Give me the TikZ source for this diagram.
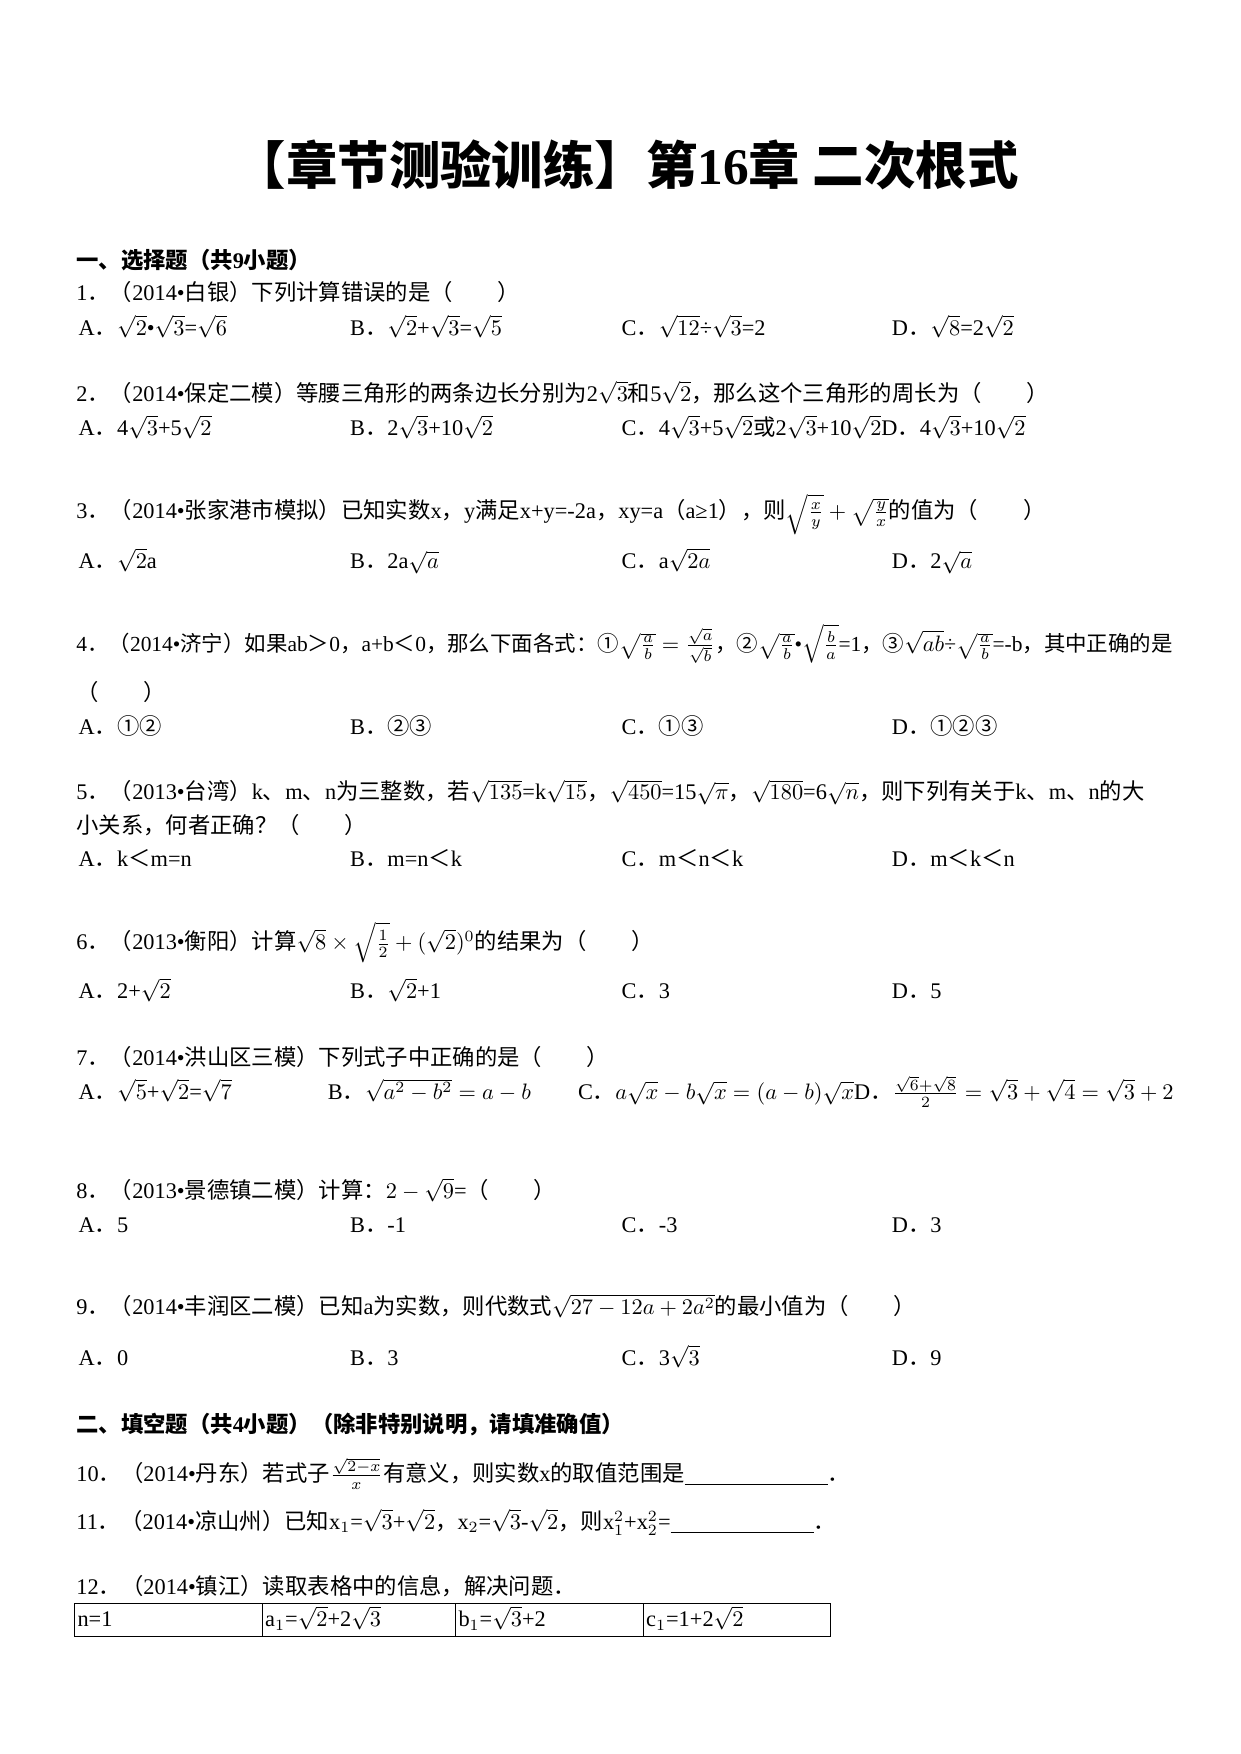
\documentclass[tikz,border=0pt]{standalone}
\usepackage{amsmath}
\usepackage{amssymb}
\usepackage{fontspec}
\setmainfont{Liberation Serif}
\newfontfamily\cjkf{Noto Sans CJK SC}
\usetikzlibrary{positioning}
% switch to the CJK font between Latin and Chinese characters
\XeTeXinterchartokenstate=1
\newXeTeXintercharclass\cjkcls
\newcommand\setcls[2]{\count255=#1
  \loop\XeTeXcharclass\count255=\cjkcls\ifnum\count255<#2\advance\count255 1 \repeat}
\setcls{"3000}{"303F}
\setcls{"4E00}{"9FFF}
\setcls{"FF00}{"FFEF}
\setcls{"2460}{"24FF}
\XeTeXinterchartoks 0 \cjkcls={\cjkf}
\XeTeXinterchartoks \cjkcls 0={\rmfamily}
\XeTeXinterchartoks 4095 \cjkcls={\cjkf}
\XeTeXinterchartoks \cjkcls 4095={\rmfamily}
\newcommand\rt[1]{$\sqrt{#1}$}

\begin{document}
\begin{tikzpicture}[x=0.5pt,y=-0.5pt]
    \tikzset{line/.style = {anchor=base west,inner sep=0pt,font=\fontsize{10}{12}\selectfont}}
    \tikzset{head/.style = {line,font=\fontsize{10}{12}\selectfont\bfseries}}
    \useasboundingbox[fill=white] (0,0) rectangle (1110,1570);
    % title
    \node[inner sep=0pt,font=\fontsize{23}{28}\selectfont\bfseries] (title) at (561,148) {【章节测验训练】第16章 二次根式};
    \node[head] (s1) at (68,240) {一、选择题（共9小题）};
    % question 1
    \node[line] (q1) at (68,269) {1．（2014•白银）下列计算错误的是（　　）};
    \node[line] (q1a) at (70,300) {A．\rt{2}•\rt{3}=\rt{6}};
    \node[line] (q1b) at (313,300) {B．\rt{2}+\rt{3}=\rt{5}};
    \node[line] (q1c) at (556,300) {C．\rt{12}÷\rt{3}=2};
    \node[line] (q1d) at (798,300) {D．\rt{8}=2\rt{2}};
    % question 2
    \node[line] (q2) at (68,359) {2．（2014•保定二模）等腰三角形的两条边长分别为2\rt{3}和5\rt{2}，那么这个三角形的周长为（　　）};
    \node[line] (q2a) at (70,390) {A．4\rt{3}+5\rt{2}};
    \node[line] (q2b) at (313,390) {B．2\rt{3}+10\rt{2}};
    \node[line] (q2c) at (556,390) {C．4\rt{3}+5\rt{2}或2\rt{3}+10\rt{2}D．4\rt{3}+10\rt{2}};
    % question 3
    \node[line] (q3) at (68,464) {3．（2014•张家港市模拟）已知实数x，y满足x+y=-2a，xy=a（a≥1），则$\sqrt{\frac{x}{y}}+\sqrt{\frac{y}{x}}$的值为（　　）};
    \node[line] (q3a) at (70,509) {A．\rt{2}a};
    \node[line] (q3b) at (313,509) {B．2a\rt{a}};
    \node[line] (q3c) at (556,509) {C．a\rt{2a}};
    \node[line] (q3d) at (798,509) {D．2\rt{a}};
    % question 4
    \node[line,font=\fontsize{9.6}{12}\selectfont] (q4) at (68,583) {4．（2014•济宁）如果ab＞0，a+b＜0，那么下面各式：①$\sqrt{\frac{a}{b}}=\frac{\sqrt{a}}{\sqrt{b}}$，②$\sqrt{\frac{a}{b}}$•$\sqrt{\frac{b}{a}}$=1，③\rt{ab}÷$\sqrt{\frac{a}{b}}$=-b，其中正确的是};
    \node[line] (q4x) at (68,627) {（　　）};
    \node[line] (q4a) at (70,657) {A．①②};
    \node[line] (q4b) at (313,657) {B．②③};
    \node[line] (q4c) at (556,657) {C．①③};
    \node[line] (q4d) at (798,657) {D．①②③};
    % question 5
    \node[line] (q5) at (68,716) {5．（2013•台湾）k、m、n为三整数，若\rt{135}=k\rt{15}，\rt{450}=15\rt{\pi}，\rt{180}=6\rt{n}，则下列有关于k、m、n的大};
    \node[line] (q5x) at (68,746) {小关系，何者正确？（　　）};
    \node[line] (q5a) at (70,776) {A．k＜m=n};
    \node[line] (q5b) at (313,776) {B．m=n＜k};
    \node[line] (q5c) at (556,776) {C．m＜n＜k};
    \node[line] (q5d) at (798,776) {D．m＜k＜n};
    % question 6
    \node[line] (q6) at (68,850) {6．（2013•衡阳）计算$\sqrt{8}\times\sqrt{\frac{1}{2}}+(\sqrt{2})^{0}$的结果为（　　）};
    \node[line] (q6a) at (70,894) {A．2+\rt{2}};
    \node[line] (q6b) at (313,894) {B．\rt{2}+1};
    \node[line] (q6c) at (556,894) {C．3};
    \node[line] (q6d) at (798,894) {D．5};
    % question 7
    \node[line] (q7) at (68,954) {7．（2014•洪山区三模）下列式子中正确的是（　　）};
    \node[line] (q7a) at (70,984) {A．\rt{5}+\rt{2}=\rt{7}};
    \node[line] (q7b) at (293,984) {B．$\sqrt{a^2-b^2}=a-b$};
    \node[line] (q7c) at (517,984) {C．$a\sqrt{x}-b\sqrt{x}=(a-b)\sqrt{x}$D．$\frac{\sqrt{6}+\sqrt{8}}{2}=\sqrt{3}+\sqrt{4}=\sqrt{3}+2$};
    % question 8
    \node[line] (q8) at (68,1073) {8．（2013•景德镇二模）计算：$2-\sqrt{9}$=（　　）};
    \node[line] (q8a) at (70,1103) {A．5};
    \node[line] (q8b) at (313,1103) {B．-1};
    \node[line] (q8c) at (556,1103) {C．-3};
    \node[line] (q8d) at (798,1103) {D．3};
    % question 9
    \node[line] (q9) at (68,1177) {9．（2014•丰润区二模）已知a为实数，则代数式$\sqrt{27-12a+2a^{2}}$的最小值为（　　）};
    \node[line] (q9a) at (70,1222) {A．0};
    \node[line] (q9b) at (313,1222) {B．3};
    \node[line] (q9c) at (556,1222) {C．3\rt{3}};
    \node[line] (q9d) at (798,1222) {D．9};
    % fill in the blanks
    \node[head] (s2) at (68,1282) {二、填空题（共4小题）（除非特别说明，请填准确值）};
    \node[line] (q10) at (68,1326) {10．（2014•丹东）若式子$\frac{\sqrt{2-x}}{x}$有意义，则实数x的取值范围是\underline{\hspace{64pt}}．};
    \node[line] (q11) at (68,1369) {11．（2014•凉山州）已知x$_1$=\rt{3}+\rt{2}，x$_2$=\rt{3}-\rt{2}，则x$_1^2$+x$_2^2$=\underline{\hspace{64pt}}．};
    \node[line] (q12) at (68,1427) {12．（2014•镇江）读取表格中的信息，解决问题．};
    % table
    \draw (67,1435) rectangle (743,1465);
    \foreach \x in {235,408,576} \draw (\x,1435) -- (\x,1465);
    \node[line] (t1) at (69,1456) {n=1};
    \node[line] (t2) at (237,1456) {a$_1$=\rt{2}+2\rt{3}};
    \node[line] (t3) at (410,1456) {b$_1$=\rt{3}+2};
    \node[line] (t4) at (578,1456) {c$_1$=1+2\rt{2}};
\end{tikzpicture}
\end{document}
